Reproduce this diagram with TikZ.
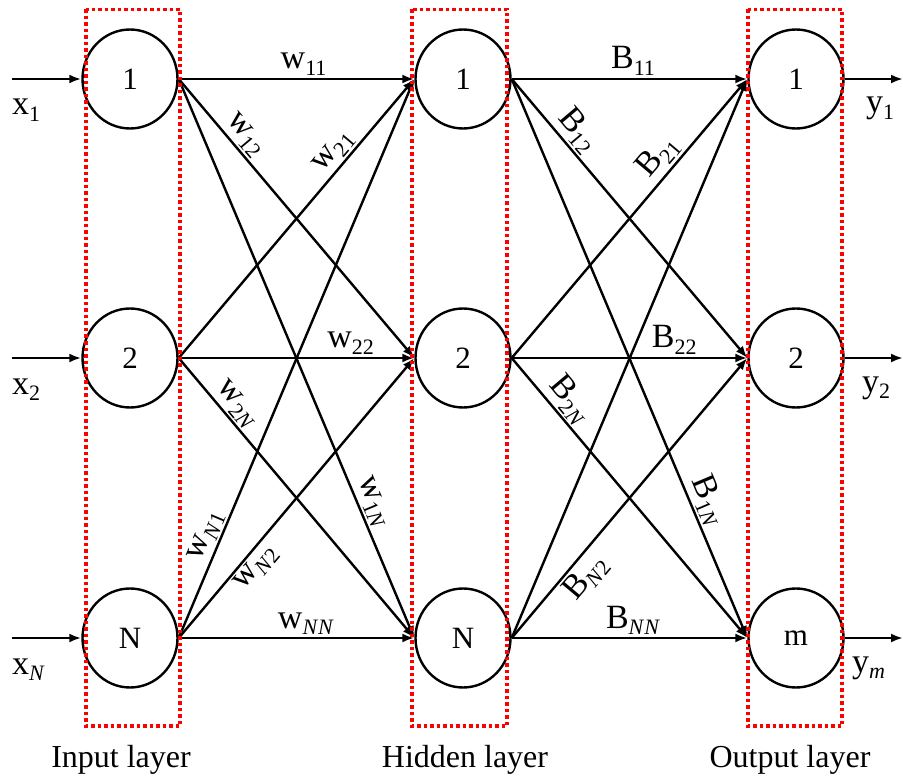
\documentclass[tikz,border=0pt]{standalone}
\usepackage{fontspec}
\setmainfont{Liberation Serif}
\usetikzlibrary{arrows.meta,shapes.geometric}
\newcommand\sbs[1]{\raisebox{-0.2em}{\fontsize{22}{22}\selectfont #1}}
\newcommand\itN{\textit{N}}
\begin{document}
\begin{tikzpicture}[x=1pt,y=-1pt,
  neuron/.style={ellipse, draw, line width=2.4pt, minimum width=95pt, minimum height=99pt, inner sep=0pt, font=\fontsize{31}{31}\selectfont},
  conn/.style={line width=2.4pt, -{Latex[length=12pt,width=9pt]}},
  lbl/.style={font=\fontsize{34}{34}\selectfont, inner sep=2pt},
  iolbl/.style={font=\fontsize{34}{34}\selectfont, inner sep=0pt},
  laylbl/.style={font=\fontsize{32}{32}\selectfont, inner sep=0pt, anchor=base},
  redbox/.style={draw=red, line width=3.5pt, dash pattern=on 3.5pt off 3pt}]
\useasboundingbox (0,0) rectangle (903,778);
% neurons
\node[neuron] (i1) at (130,79) {1};
\node[neuron] (i2) at (130,358) {2};
\node[neuron] (iN) at (130,638) {N};
\node[neuron] (h1) at (463,79) {1};
\node[neuron] (h2) at (463,358) {2};
\node[neuron] (hN) at (463,638) {N};
\node[neuron] (o1) at (796,79) {1};
\node[neuron] (o2) at (796,358) {2};
\node[neuron] (oN) at (796,638) {m};
% free ends
\coordinate (a1) at (12,79);
\coordinate (a2) at (12,358);
\coordinate (aN) at (12,638);
\coordinate (b1) at (903,79);
\coordinate (b2) at (903,358);
\coordinate (bN) at (903,638);
\draw[conn] (a1) -- (i1.west);
\draw[conn] (a2) -- (i2.west);
\draw[conn] (aN) -- (iN.west);
\draw[conn] (o1.east) -- (b1);
\draw[conn] (o2.east) -- (b2);
\draw[conn] (oN.east) -- (bN);
% input -> hidden
\draw[conn] (i1.east) -- node[lbl, pos=0.53, above] {w\sbs{11}} (h1.west);
\draw[conn] (i1.east) -- node[lbl, pos=0.234, sloped, above] {w\sbs{12}} (h2.west);
\draw[conn] (i1.east) -- node[lbl, pos=0.767, sloped, above] {w\sbs{1\itN}} (hN.west);
\draw[conn] (i2.east) -- node[lbl, pos=0.705, sloped, above] {w\sbs{21}} (h1.west);
\draw[conn] (i2.east) -- node[lbl, pos=0.73, above] {w\sbs{22}} (h2.west);
\draw[conn] (i2.east) -- node[lbl, pos=0.2, sloped, above] {w\sbs{2\itN}} (hN.west);
\draw[conn] (iN.east) -- node[lbl, pos=0.173, sloped, above] {w\sbs{\itN1}} (h1.west);
\draw[conn] (iN.east) -- node[lbl, pos=0.283, sloped, below] {w\sbs{\itN2}} (h2.west);
\draw[conn] (iN.east) -- node[lbl, pos=0.54, above] {w\sbs{\itN\itN}} (hN.west);
% hidden -> output
\draw[conn] (h1.east) -- node[lbl, pos=0.515, above] {B\sbs{11}} (o1.west);
\draw[conn] (h1.east) -- node[lbl, pos=0.225, sloped, above] {B\sbs{12}} (o2.west);
\draw[conn] (h1.east) -- node[lbl, pos=0.766, sloped, above] {B\sbs{1\itN}} (oN.west);
\draw[conn] (h2.east) -- node[lbl, pos=0.68, sloped, above] {B\sbs{21}} (o1.west);
\draw[conn] (h2.east) -- node[lbl, pos=0.69, above] {B\sbs{22}} (o2.west);
\draw[conn] (h2.east) -- node[lbl, pos=0.19, sloped, above] {B\sbs{2\itN}} (oN.west);
\draw[conn] (hN.east) -- (o1.west);
\draw[conn] (hN.east) -- node[lbl, pos=0.258, sloped, below] {B\sbs{\itN2}} (o2.west);
\draw[conn] (hN.east) -- node[lbl, pos=0.515, above] {B\sbs{\itN\itN}} (oN.west);
% io labels
\node[iolbl, anchor=base west] (x1) at (12,115) {x\sbs{1}};
\node[iolbl, anchor=base west] (x2) at (12,394) {x\sbs{2}};
\node[iolbl, anchor=base west] (xN) at (12,674) {x\sbs{\itN}};
\node[iolbl, anchor=base west] (y1) at (866,113) {y\sbs{1}};
\node[iolbl, anchor=base west] (y2) at (862,392) {y\sbs{2}};
\node[iolbl, anchor=base west] (ym) at (852,672) {y\sbs{\textit{m}}};
% layer boxes
\draw[redbox] (86,9.5) rectangle (180,726);
\draw[redbox] (412,9.5) rectangle (507,726);
\draw[redbox] (748,9.5) rectangle (842,726);
% layer labels
\node[laylbl] (L1) at (121,767) {Input layer};
\node[laylbl] (L2) at (465,767) {Hidden layer};
\node[laylbl] (L3) at (790,767) {Output layer};
\end{tikzpicture}
\end{document}
